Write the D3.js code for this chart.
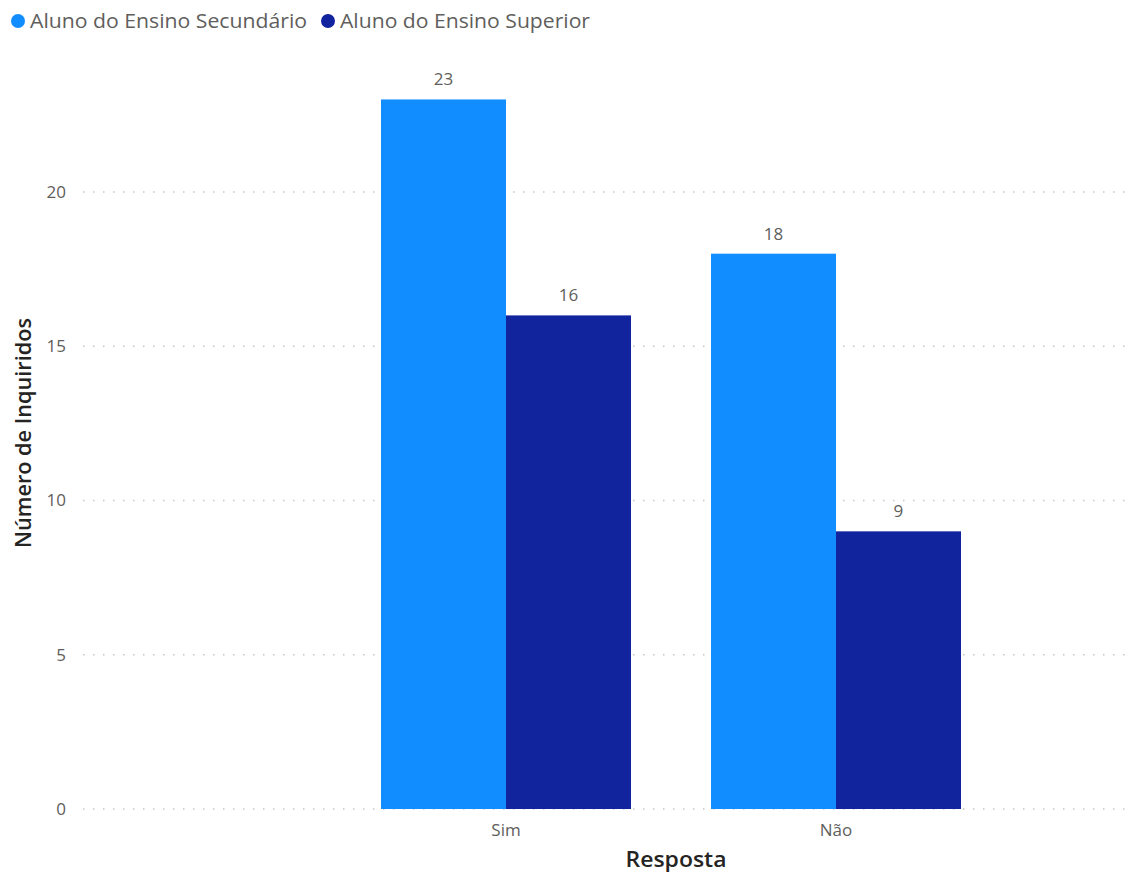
<!DOCTYPE html>
<html>
<head>
<meta charset="utf-8">
<script src="https://cdn.jsdelivr.net/npm/d3@7"></script>
<style>
    body { margin: 0; background: #fff; }
    text { font-family: "Open Sans", "Noto Sans", sans-serif; }
</style>
</head>
<body>
<div id="chart"></div>
<script>
    var categories = ["Sim", "Não"];
    var seriesNames = ["Aluno do Ensino Secundário", "Aluno do Ensino Superior"];
    var secundario = [23, 18];
    var superior = [16, 9];
    var yTicks = [0, 5, 10, 15, 20];
    var colors = ["#118DFF", "#12239E"];

    var width = 1133, height = 872;

    var svg = d3.select("#chart")
        .append("svg")
        .attr("width", width)
        .attr("height", height);

    var y = d3.scaleLinear().domain([0, 20]).range([809, 192]);

    var x0 = d3.scaleBand()
        .domain(categories)
        .range([341, 1001])
        .paddingInner(0.2424)
        .paddingOuter(0.1212);

    var x1 = d3.scaleBand()
        .domain(seriesNames)
        .range([0, x0.bandwidth()]);

    // dotted gridlines
    svg.append("g").selectAll("line")
        .data(yTicks)
        .enter().append("line")
        .attr("x1", 83)
        .attr("x2", width)
        .attr("y1", function (d) { return y(d); })
        .attr("y2", function (d) { return y(d); })
        .attr("stroke", "#c8c6c4")
        .attr("stroke-width", 1.5)
        .attr("stroke-dasharray", "1.5,8.5");

    // y tick labels
    svg.append("g").selectAll("text")
        .data(yTicks)
        .enter().append("text")
        .attr("x", 66)
        .attr("y", function (d) { return y(d); })
        .attr("dy", "0.35em")
        .attr("text-anchor", "end")
        .attr("fill", "#605E5C")
        .style("font-size", "17px")
        .text(function (d) { return d; });

    var rows = categories.map(function (c, i) {
        return { cat: c, values: [secundario[i], superior[i]] };
    });

    var groups = svg.append("g").selectAll("g")
        .data(rows)
        .enter().append("g")
        .attr("transform", function (d) { return "translate(" + x0(d.cat) + ",0)"; });

    var bars = groups.selectAll("g")
        .data(function (d) {
            return d.values.map(function (v, j) { return { name: seriesNames[j], value: v, j: j }; });
        })
        .enter().append("g");

    bars.append("rect")
        .attr("x", function (d) { return x1(d.name); })
        .attr("width", x1.bandwidth())
        .attr("y", function (d) { return y(d.value); })
        .attr("height", function (d) { return y(0) - y(d.value); })
        .attr("fill", function (d) { return colors[d.j]; });

    bars.append("text")
        .attr("x", function (d) { return x1(d.name) + x1.bandwidth() / 2; })
        .attr("y", function (d) { return y(d.value) - 14; })
        .attr("text-anchor", "middle")
        .attr("fill", "#605E5C")
        .style("font-size", "17px")
        .text(function (d) { return d.value; });

    // x category labels
    svg.append("g").selectAll("text")
        .data(categories)
        .enter().append("text")
        .attr("x", function (d) { return x0(d) + x0.bandwidth() / 2; })
        .attr("y", 836)
        .attr("text-anchor", "middle")
        .attr("fill", "#605E5C")
        .style("font-size", "17px")
        .text(function (d) { return d; });

    // axis titles
    svg.append("text")
        .attr("x", 676)
        .attr("y", 867)
        .attr("text-anchor", "middle")
        .attr("fill", "#252423")
        .attr("textLength", 101)
        .attr("lengthAdjust", "spacingAndGlyphs")
        .style("font-size", "21px")
        .style("font-weight", "600")
        .text("Resposta");

    svg.append("text")
        .attr("transform", "translate(31,433) rotate(-90)")
        .attr("text-anchor", "middle")
        .attr("fill", "#252423")
        .attr("textLength", 230)
        .attr("lengthAdjust", "spacingAndGlyphs")
        .style("font-size", "21px")
        .style("font-weight", "600")
        .text("Número de Inquiridos");

    // legend
    var legendX = [18, 328];
    var legendLen = [277, 250];
    var legend = svg.append("g").selectAll("g")
        .data(seriesNames)
        .enter().append("g")
        .attr("transform", function (d, i) { return "translate(" + legendX[i] + ",21)"; });

    legend.append("circle")
        .attr("r", 7)
        .attr("fill", function (d, i) { return colors[i]; });

    legend.append("text")
        .attr("x", 12)
        .attr("dy", "0.35em")
        .attr("fill", "#605E5C")
        .attr("textLength", function (d, i) { return legendLen[i]; })
        .attr("lengthAdjust", "spacingAndGlyphs")
        .style("font-size", "20px")
        .text(function (d) { return d; });
</script>
</body>
</html>
